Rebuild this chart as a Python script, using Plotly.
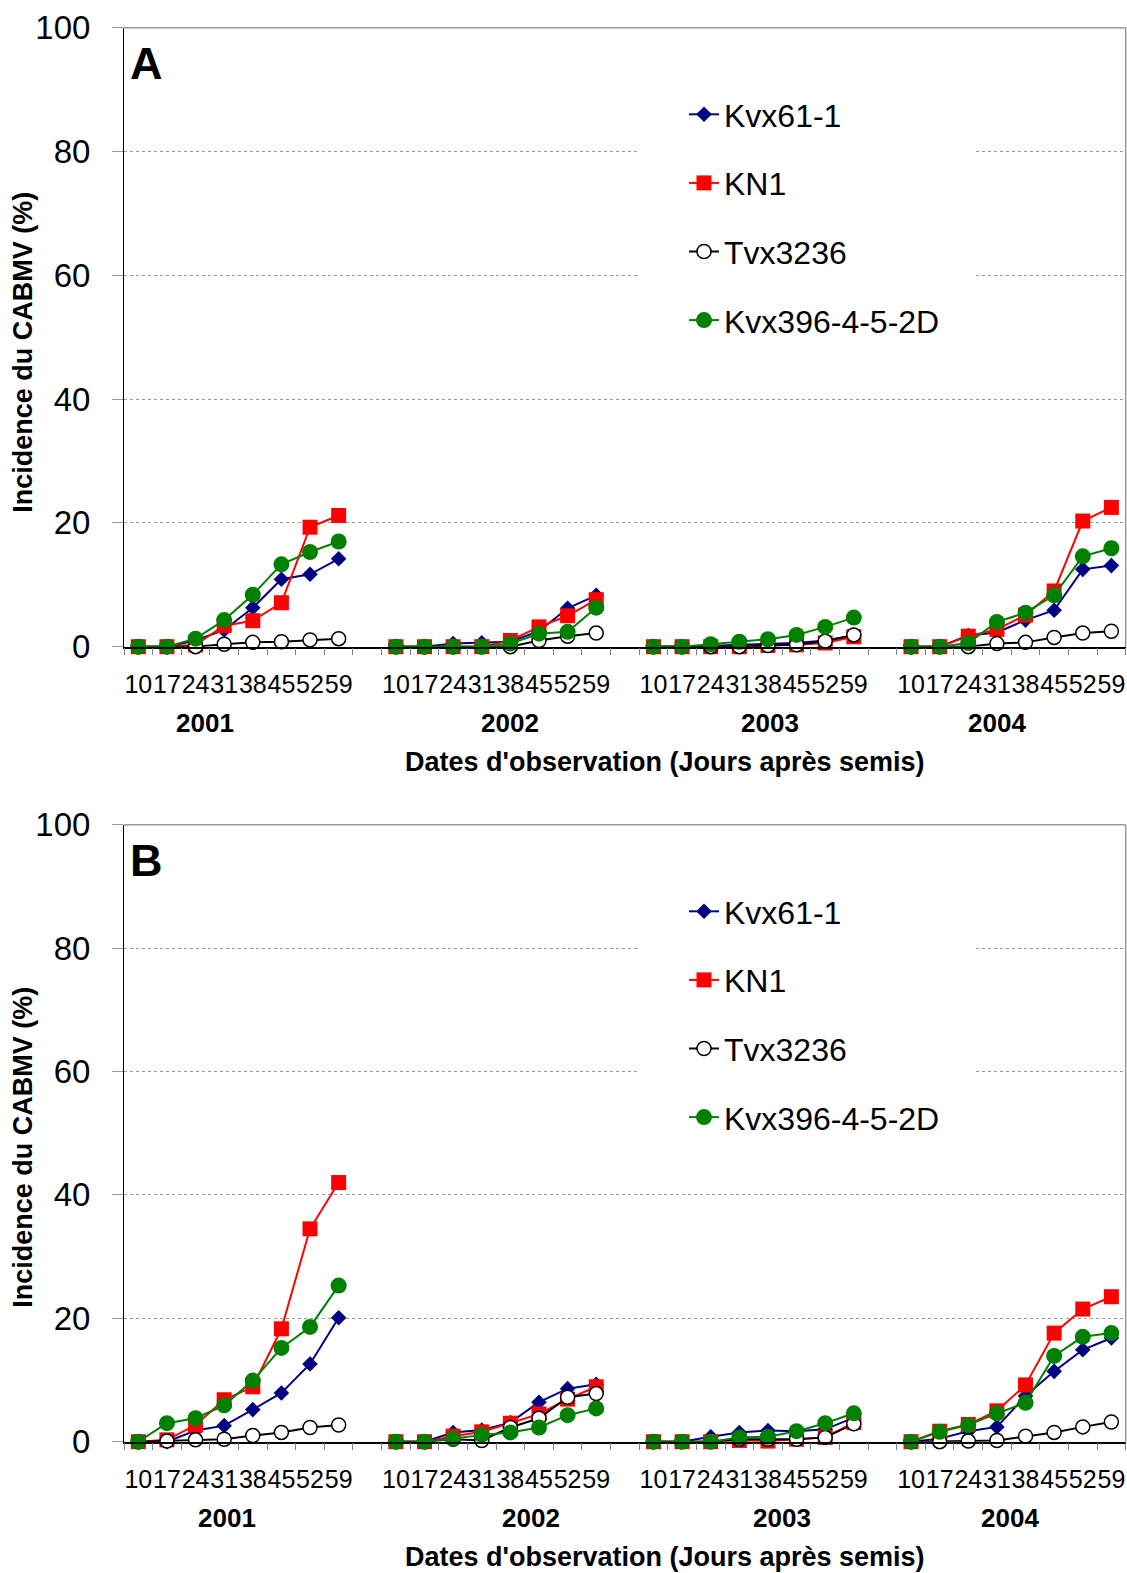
import plotly.graph_objects as go

W, H = 1127, 1573

# Observation dates (days after sowing) and seasons
days = [10, 17, 24, 31, 38, 45, 52, 59]
years = ["2001", "2002", "2003", "2004"]
series_names = ["Kvx61-1", "KN1", "Tvx3236", "Kvx396-4-5-2D"]

# Panel A: CABMV incidence (%), 8 dates per season, seasons 2001-2004 in order
a_kvx61 = [0, 0, 1.0, 2.7, 6.3, 10.9, 11.7, 14.2,
           0, 0, 0.5, 0.65, 0.8, 2.5, 6.2, 8.3,
           0, 0, 0.1, 0.3, 0.4, 0.6, 1.0, 1.8,
           0, 0, 1.8, 2.3, 4.3, 5.9, 12.5, 13.1]
a_kn1 = [0, 0, 0.3, 3.4, 4.2, 7.1, 19.3, 21.2,
         0, 0, 0, 0, 1.0, 3.2, 5.0, 7.6,
         0, 0, 0, 0, 0.2, 0.3, 0.6, 1.6,
         0, 0, 1.7, 2.8, 5.1, 9.0, 20.3, 22.5]
a_tvx3236 = [0, 0, 0, 0.4, 0.7, 0.8, 1.1, 1.3,
             0, 0, 0, 0, 0, 1.0, 1.7, 2.2,
             0, 0, 0, 0, 0.2, 0.3, 0.9, 1.9,
             0, 0, 0, 0.5, 0.7, 1.5, 2.2, 2.5]
a_kvx396 = [0, 0, 1.3, 4.3, 8.4, 13.3, 15.3, 17.0,
            0, 0, 0, 0, 0.5, 2.1, 2.4, 6.3,
            0, 0, 0.4, 0.8, 1.2, 1.9, 3.2, 4.7,
            0, 0, 0.6, 4.0, 5.5, 8.3, 14.6, 15.9]

# Panel B
b_kvx61 = [0, 0, 1.8, 2.6, 5.2, 7.9, 12.6, 20.1,
           0, 0, 1.5, 1.9, 3.1, 6.4, 8.6, 9.3,
           0, 0, 0.8, 1.5, 1.8, 1.7, 2.0, 3.9,
           0, 0.5, 1.7, 2.4, 7.4, 11.4, 14.9, 16.8]
b_kn1 = [0, 0.3, 2.7, 6.8, 8.9, 18.3, 34.5, 42.0,
         0, 0, 0.9, 1.6, 3.0, 4.5, 6.9, 8.9,
         0, 0, 0, 0.2, 0.1, 0.4, 0.7, 3.1,
         0, 1.7, 2.8, 5.0, 9.2, 17.6, 21.5, 23.5]
b_tvx3236 = [0, 0.1, 0.3, 0.4, 1.0, 1.5, 2.3, 2.7,
             0, 0, 0.4, 0.2, 2.3, 3.8, 7.2, 7.8,
             0, 0, 0, 0.4, 0.4, 0.4, 0.7, 2.9,
             0, 0, 0.1, 0.2, 0.9, 1.5, 2.4, 3.2]
b_kvx396 = [0, 3.0, 3.8, 5.9, 9.9, 15.2, 18.6, 25.3,
            0, 0, 0.5, 1.1, 1.5, 2.3, 4.3, 5.4,
            0, 0, 0, 0.7, 0.8, 1.7, 3.0, 4.6,
            0, 1.6, 2.7, 4.6, 6.3, 13.9, 17.0, 17.6]

panels = [
    ("A", [a_kvx61, a_kn1, a_tvx3236, a_kvx396]),
    ("B", [b_kvx61, b_kn1, b_tvx3236, b_kvx396]),
]

FONT = "Liberation Sans, Arial, sans-serif"
NSLOT = len(years) * (len(days) + 1) - 1  # one empty slot between seasons


def slot_positions(values):
    """Category slot index for each value, with a break between seasons."""
    xs, ys = [], []
    for yi in range(len(years)):
        for di in range(len(days)):
            xs.append(yi * (len(days) + 1) + di)
            ys.append(values[yi * len(days) + di])
        if yi < len(years) - 1:
            xs.append(yi * (len(days) + 1) + len(days))
            ys.append(None)
    return xs, ys


styles = [
    dict(line=dict(color="#000080", width=2),
         marker=dict(symbol="diamond", size=12, color="#000080")),
    dict(line=dict(color="#FF0000", width=2),
         marker=dict(symbol="square", size=15, color="#FF0000")),
    dict(line=dict(color="#000000", width=2),
         marker=dict(symbol="circle", size=14, color="#FFFFFF",
                     line=dict(color="#000000", width=1.5))),
    dict(line=dict(color="#008000", width=2),
         marker=dict(symbol="circle", size=16, color="#008000")),
]


def px_x(p):
    return p / W


def px_y(p):
    return 1 - p / H


# pixel geometry of the two plot areas
X_LEFT, X_RIGHT = 124, 1125.7
panel_top = [27.7, 824.7]
panel_bottom = [646.7, 1441.7]
year_label_x = [[205, 510, 770, 997], [227, 531, 782, 1010]]

tickvals = []
ticktext = []
for yi in range(len(years)):
    for di, d in enumerate(days):
        tickvals.append(yi * (len(days) + 1) + di)
        ticktext.append(str(d))

fig = go.Figure()
layout = dict(
    template="none",
    width=W, height=H,
    margin=dict(l=0, r=0, t=0, b=0, autoexpand=False),
    paper_bgcolor="white", plot_bgcolor="white",
    font=dict(family=FONT, color="black"),
    showlegend=True,
    shapes=[], annotations=[],
)

for pi, (label, series) in enumerate(panels):
    xa = "x" if pi == 0 else "x2"
    ya = "y" if pi == 0 else "y2"
    leg = "legend" if pi == 0 else "legend2"
    for si, vals in enumerate(series):
        xs, ys = slot_positions(vals)
        fig.add_trace(go.Scatter(
            x=xs, y=ys, mode="lines+markers", name=series_names[si],
            xaxis=xa, yaxis=ya, legend=leg, legendgroup=f"{label}{si}",
            connectgaps=False, cliponaxis=False, **styles[si]))

    top, bot = panel_top[pi], panel_bottom[pi]
    xkey = "xaxis" if pi == 0 else "xaxis2"
    ykey = "yaxis" if pi == 0 else "yaxis2"
    layout[xkey] = dict(
        domain=[px_x(X_LEFT), px_x(X_RIGHT)], anchor=ya, automargin=False,
        range=[-0.5, NSLOT - 0.5], tickmode="array",
        tickvals=tickvals, ticktext=ticktext, ticks="", tickangle=0,
        ticklabelstandoff=15,
        tickfont=dict(size=25, family=FONT),
        showline=True, linecolor="black", linewidth=1.5,
        showgrid=False, zeroline=False,
        minor=dict(tickmode="linear", tick0=-0.5, dtick=1, ticks="outside",
                   ticklen=7, tickcolor="#808080", tickwidth=1, showgrid=False),
    )
    layout[ykey] = dict(
        domain=[px_y(bot), px_y(top)], anchor=xa, automargin=False,
        range=[0, 100], tickmode="array", tickvals=[0, 20, 40, 60, 80, 100],
        ticks="outside", ticklen=11, tickcolor="#999999", tickwidth=1,
        ticklabelstandoff=15,
        tickfont=dict(size=33, family=FONT),
        showline=True, linecolor="black", linewidth=1,
        showgrid=True, gridcolor="#999999", gridwidth=1, griddash="dot",
        zeroline=False,
    )

    # frame: grey top and right edges
    layout["shapes"] += [
        dict(type="line", xref=f"{xa} domain", yref=f"{ya} domain",
             x0=0, x1=1, y0=1, y1=1, line=dict(color="#999999", width=1.5)),
        dict(type="line", xref=f"{xa} domain", yref=f"{ya} domain",
             x0=1, x1=1, y0=0, y1=1, line=dict(color="#999999", width=1.5)),
        # white backing behind the legend, hiding the gridlines
        dict(type="rect", xref=xa, yref=ya, layer="between",
             x0=17.49, x1=29.27, y0=45, y1=97,
             fillcolor="white", line=dict(width=0)),
    ]

    layout[leg] = dict(
        x=px_x(684), xanchor="left", y=px_y(87 + 797 * pi), yanchor="top",
        bgcolor="rgba(0,0,0,0)", borderwidth=0,
        font=dict(size=32, family=FONT), tracegroupgap=24,
        itemsizing="trace",
    )

    # panel letter
    layout["annotations"].append(dict(
        text=label, xref="paper", yref="paper", x=px_x(128), y=px_y(top + 36),
        xanchor="left", yanchor="middle", showarrow=False,
        font=dict(size=45, family=FONT, weight="bold")))
    # season labels
    for yi, yr in enumerate(years):
        layout["annotations"].append(dict(
            text=yr, xref="paper", yref="paper",
            x=px_x(year_label_x[pi][yi]), y=px_y(bot + 76),
            xanchor="center", yanchor="middle", showarrow=False,
            font=dict(size=26, family=FONT, weight="bold")))
    # axis titles
    layout["annotations"].append(dict(
        text="Dates d'observation (Jours après semis)", xref="paper", yref="paper",
        x=px_x(665), y=px_y(bot + 115), xanchor="center", yanchor="middle",
        showarrow=False, font=dict(size=27, family=FONT, weight="bold")))
    layout["annotations"].append(dict(
        text="Incidence du CABMV (%)", xref="paper", yref="paper",
        x=px_x(23), y=px_y(bot - 294), xanchor="center", yanchor="middle",
        textangle=-90, showarrow=False,
        font=dict(size=27, family=FONT, weight="bold")))

fig.update_layout(**layout)
fig.write_html("out.html")
